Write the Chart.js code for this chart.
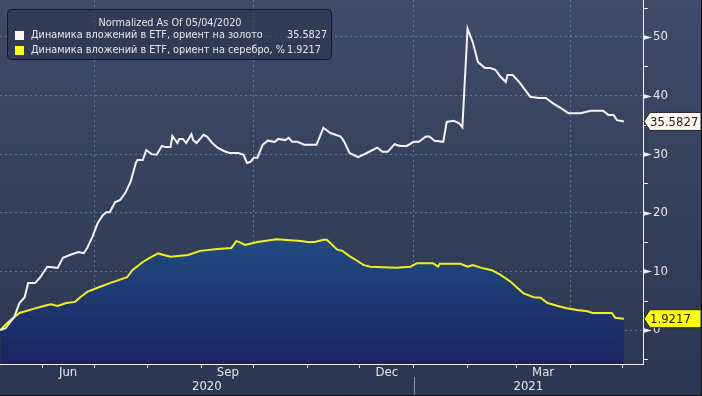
<!DOCTYPE html>
<html>
<head>
<meta charset="utf-8">
<script src="https://cdn.jsdelivr.net/npm/chart.js@4.4.1/dist/chart.umd.min.js"></script>
<style>
    body { margin: 0; background: #2b3750; }
    canvas { display: block; }
</style>
</head>
<body>
<canvas id="myChart" width="702" height="396"></canvas>
<script>
// x values are days counted from 2020-05-04 (the normalisation date)
const goldDays = [4, 7, 12, 15, 18, 20, 24, 27, 31, 34, 37, 40, 44, 49, 52, 54, 57, 60, 63, 65,
    67, 70, 73, 76, 79, 82, 83, 86, 88, 91, 94, 97, 99, 102, 103, 106, 107, 109, 111, 114,
    115, 117, 121, 123, 126, 129, 133, 136, 141, 144, 146, 148, 150, 152, 155, 158, 162, 164, 168, 170,
    172, 175, 179, 186, 190, 194, 200, 202, 205, 210, 215, 221, 224, 227, 231, 234, 238, 242, 245, 249,
    251, 254, 259, 261, 265, 268, 270, 273, 276, 279, 283, 286, 289, 292, 295, 296, 299, 303, 306, 309,
    314, 318, 322, 326, 331, 338, 344, 351, 354, 357, 359, 363]
const goldValues = [0, 0.3, 2.2, 4.6, 5.6, 8.0, 8.0, 9.0, 10.8, 10.7, 10.6, 12.3, 12.8, 13.3, 13.1, 14.0, 15.9, 18.2, 19.6, 20.1,
    20.1, 21.8, 22.2, 23.4, 25.3, 28.5, 29.0, 29.0, 30.7, 30.0, 29.9, 31.4, 31.2, 31.2, 33.1, 31.9, 32.6, 32.6, 31.9, 33.4,
    32.4, 31.9, 33.3, 33.0, 31.9, 31.1, 30.5, 30.2, 30.2, 29.9, 28.5, 28.7, 29.4, 29.4, 31.6, 32.3, 32.1, 32.6, 32.4, 32.8,
    32.1, 32.1, 31.6, 31.6, 34.5, 33.6, 33.0, 32.1, 30.2, 29.5, 30.2, 31.1, 30.4, 30.4, 31.7, 31.4, 31.4, 32.1, 32.1, 33.0,
    33.0, 32.3, 32.1, 35.5, 35.7, 35.3, 34.6, 51.4, 49.1, 45.7, 44.7, 44.7, 44.4, 43.2, 42.3, 43.5, 43.5, 42.2, 41.0, 39.8,
    39.6, 39.6, 38.7, 38.0, 37.0, 37.0, 37.4, 37.4, 36.7, 36.7, 35.8, 35.5827]

const silverDays = [4, 8, 12, 15, 23, 29, 33, 37, 42, 47, 50, 54, 60, 67, 77, 80, 86, 90, 95, 98,
    102, 112, 119, 129, 137, 140, 145, 152, 163, 177, 181, 185, 190, 192, 198, 201, 205, 209, 213, 217,
    224, 232, 240, 244, 253, 256, 257, 269, 273, 276, 281, 287, 292, 298, 305, 311, 315, 319, 325, 330,
    336, 342, 345, 356, 358, 363]
const silverValues = [0, 1.2, 2.2, 2.9, 3.6, 4.1, 4.4, 4.1, 4.6, 4.8, 5.6, 6.5, 7.2, 8.0, 9.0, 10.2, 11.6, 12.3, 13.1, 12.8,
    12.5, 12.8, 13.5, 13.8, 14.0, 15.2, 14.5, 15.0, 15.5, 15.2, 15.0, 15.0, 15.4, 15.4, 13.7, 13.5, 12.6, 11.9, 11.1, 10.8,
    10.7, 10.6, 10.8, 11.4, 11.4, 10.8, 11.3, 11.3, 10.8, 11.1, 10.6, 10.2, 9.4, 8.2, 6.3, 5.6, 5.5, 4.6, 4.1, 3.7,
    3.4, 3.2, 2.9, 2.9, 2.1, 1.9217]

// month starts Jun 2020 .. May 2021, in the same day units
const monthStarts = [28, 58, 89, 120, 150, 181, 211, 242, 273, 301, 332, 362]
const monthNames = ["Jun", "Jul", "Aug", "Sep", "Oct", "Nov", "Dec", "Jan", "Feb", "Mar", "Apr"]
const shownMonths = ["Jun", "Sep", "Dec", "Mar"]
const quarterStarts = [58, 150, 242, 332]
const yearLabels = ["2020", "2021"]
const yearBreak = 242
const xMin = 3.8
const xMax = 374

const legendTitle = "Normalized As Of 05/04/2020"
const goldLabel = "Динамика вложений в ETF, ориент на золото"
const silverLabel = "Динамика вложений в ETF, ориент на серебро, %"

const gridColor = "rgba(110, 135, 170, 0.75)"
const textColor = "#e4e6ea"
const font = "'DejaVu Sans Condensed', 'DejaVu Sans', sans-serif"

const background = {
    id: "background",
    beforeDraw(chart) {
        const ctx = chart.ctx
        const g = ctx.createLinearGradient(0, 0, 0, chart.height)
        g.addColorStop(0, "#3e4b69")
        g.addColorStop(1, "#2b3750")
        ctx.save()
        ctx.fillStyle = g
        ctx.fillRect(0, 0, chart.width, chart.height)
        ctx.restore()
    }
}

const decorations = {
    id: "decorations",
    afterDraw(chart) {
        const ctx = chart.ctx
        const x = chart.scales.x
        const y = chart.scales.y
        const area = chart.chartArea
        ctx.save()

        // right axis tick marks
        ctx.fillStyle = "#f0f0f0"
        ctx.strokeStyle = "#f0f0f0"
        ctx.lineWidth = 1
        for (let v = -5; v <= 55; v += 5) {
            const py = Math.round(y.getPixelForValue(v)) + 0.5
            if (v % 10 === 0) {
                ctx.beginPath()
                ctx.moveTo(area.right, py - 2.5)
                ctx.lineTo(area.right + 9, py)
                ctx.lineTo(area.right, py + 2.5)
                ctx.closePath()
                ctx.fill()
            } else {
                ctx.beginPath()
                ctx.moveTo(area.right, py)
                ctx.lineTo(area.right + 5, py)
                ctx.stroke()
            }
        }

        // month and year labels
        ctx.fillStyle = textColor
        ctx.font = "13px " + font
        ctx.textAlign = "center"
        ctx.textBaseline = "middle"
        shownMonths.forEach(m => {
            const i = monthNames.indexOf(m)
            const mid = (monthStarts[i] + monthStarts[i + 1]) / 2
            ctx.fillText(m, x.getPixelForValue(mid), area.bottom + 9)
        })
        const yearSpans = [[xMin, yearBreak], [yearBreak, xMax]]
        yearLabels.forEach((label, i) => {
            const mid = (yearSpans[i][0] + yearSpans[i][1]) / 2
            ctx.fillText(label, x.getPixelForValue(mid), area.bottom + 23)
        })
        const bx = Math.round(x.getPixelForValue(yearBreak)) + 0.5
        ctx.strokeStyle = "#8c95a8"
        ctx.beginPath()
        ctx.moveTo(bx, area.bottom + 13)
        ctx.lineTo(bx, chart.height)
        ctx.stroke()

        // last value tags on the right axis
        const tags = [
            {value: goldValues[goldValues.length - 1], fill: "#fff6ee"},
            {value: silverValues[silverValues.length - 1], fill: "#ffff00"},
        ]
        tags.forEach(t => {
            const py = y.getPixelForValue(t.value)
            const left = area.right + 1
            ctx.beginPath()
            ctx.moveTo(left, py)
            ctx.lineTo(left + 6, py - 9)
            ctx.lineTo(chart.width - 1, py - 9)
            ctx.lineTo(chart.width - 1, py + 9)
            ctx.lineTo(left + 6, py + 9)
            ctx.closePath()
            ctx.fillStyle = t.fill
            ctx.fill()
            ctx.strokeStyle = "#20242c"
            ctx.stroke()
            ctx.fillStyle = "#1c1c1c"
            ctx.font = "13px " + font
            ctx.textAlign = "left"
            ctx.textBaseline = "middle"
            ctx.fillText(t.value.toFixed(4), left + 6, py + 1)
        })

        // legend box
        ctx.beginPath()
        ctx.roundRect(7.5, 9.5, 324, 50, 4)
        ctx.fillStyle = "rgba(40, 50, 74, 0.6)"
        ctx.fill()
        ctx.strokeStyle = "#14171d"
        ctx.stroke()
        ctx.fillStyle = textColor
        ctx.font = "10.8px " + font
        ctx.textAlign = "center"
        ctx.fillText(legendTitle, 170, 23)
        const rows = [
            {label: goldLabel, value: goldValues[goldValues.length - 1], color: "#fff6ee", y: 35},
            {label: silverLabel, value: silverValues[silverValues.length - 1], color: "#ffff00", y: 50},
        ]
        rows.forEach(r => {
            ctx.fillStyle = r.color
            ctx.fillRect(15, r.y - 4, 9, 9)
            ctx.fillStyle = textColor
            ctx.textAlign = "left"
            ctx.fillText(r.label, 31, r.y)
            ctx.fillText(r.value.toFixed(4), 287, r.y)
        })

        // frame on the right and bottom edge
        ctx.strokeStyle = "#0e1014"
        ctx.beginPath()
        ctx.moveTo(chart.width - 0.5, 0)
        ctx.lineTo(chart.width - 0.5, chart.height - 0.5)
        ctx.lineTo(0, chart.height - 0.5)
        ctx.stroke()
        ctx.restore()
    }
}

const ctx = document.getElementById("myChart")

const myChart = new Chart(ctx, {
    type: "line",
    data: {
        datasets: [
            {
                label: goldLabel,
                data: goldDays.map((d, i) => ({x: d, y: goldValues[i]})),
                borderColor: "#f4f4f4",
                borderWidth: 2,
                pointRadius: 0,
                fill: false,
                order: 1,
            },
            {
                label: silverLabel,
                data: silverDays.map((d, i) => ({x: d, y: silverValues[i]})),
                borderColor: "#f4ef1c",
                borderWidth: 2,
                pointRadius: 0,
                fill: "start",
                order: 2,
                backgroundColor: (context) => {
                    const {ctx, chartArea} = context.chart
                    if (!chartArea) return "#1d3570"
                    const g = ctx.createLinearGradient(0, chartArea.top, 0, chartArea.bottom)
                    g.addColorStop(0, "#2b6494")
                    g.addColorStop(0.62, "#215084")
                    g.addColorStop(1, "#1a2360")
                    return g
                },
            },
        ]
    },
    options: {
        responsive: false,
        animation: false,
        devicePixelRatio: 1,
        layout: { padding: 0 },
        scales: {
            x: {
                type: "linear",
                min: xMin,
                max: xMax,
                z: 1,
                afterBuildTicks: (scale) => {
                    scale.ticks = monthStarts.map(v => ({value: v}))
                },
                afterFit: (scale) => {
                    scale.height = 32
                    scale.paddingLeft = 0
                    scale.paddingRight = 0
                },
                ticks: { display: false },
                grid: {
                    color: (c) => c.tick && quarterStarts.includes(c.tick.value) ? gridColor : "transparent",
                    tickColor: "#e8e8e8",
                    tickLength: 4,
                    lineWidth: 1,
                },
                border: { display: true, color: "#f0f0f0", width: 1, dash: [2, 3] },
            },
            y: {
                position: "right",
                min: -5.8,
                max: 56.3,
                z: 1,
                afterFit: (scale) => {
                    scale.width = 59
                    scale.paddingTop = 0
                    scale.paddingBottom = 0
                },
                ticks: {
                    stepSize: 5,
                    includeBounds: false,
                    padding: 10,
                    color: textColor,
                    font: { family: font, size: 13 },
                    callback: (v) => v % 10 === 0 ? v : "",
                },
                grid: {
                    color: (c) => c.tick && c.tick.value % 10 === 0 ? gridColor : "transparent",
                    drawTicks: false,
                },
                border: { display: true, color: "#f0f0f0", width: 1, dash: [2, 3] },
            }
        },
        plugins: {
            legend: { display: false },
            tooltip: { enabled: false },
        }
    },
    plugins: [background, decorations],
})
</script>
</body>
</html>
